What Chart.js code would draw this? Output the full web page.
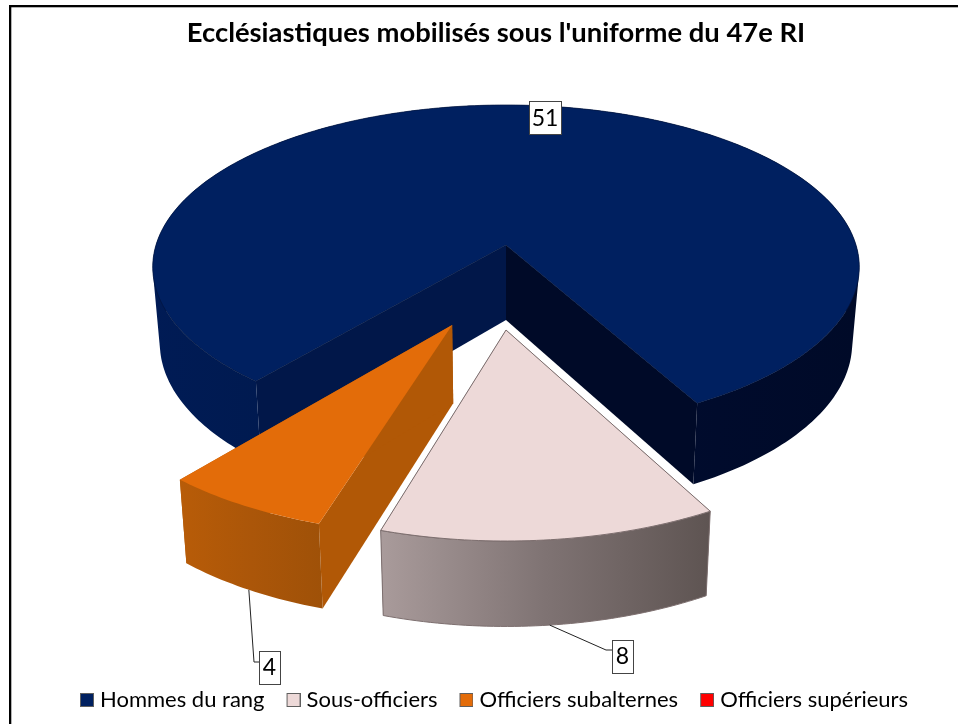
<!DOCTYPE html>
<html><head><meta charset="utf-8">
<style>html,body{margin:0;padding:0;background:#fff}#w{position:absolute;left:0;top:0;width:958px;height:724px}</style>
<script src="https://cdn.jsdelivr.net/npm/chart.js@4"></script>
</head><body><div id="w"><canvas id="c" width="958" height="724"></canvas></div>
<script>
const titleText = "Ecclésiastiques mobilisés sous l'uniforme du 47e RI";
const categories = ["Hommes du rang","Sous-officiers","Officiers subalternes","Officiers supérieurs"];
const counts = [51,8,4,0];
const sliceColors = ["#002060","#EDD9D8","#E36C09","#FF0000"];

// 3D look of each slice (style only)
const FONT = "Lato";
const look = [
 {wall:[[0,"#001B55"],[.16,"#001A50"],[.3,"#001848"],[.6,"#000C30"],[1,"#000A28"]], inA:"#011749", inB:"#000A28", ex:[0,0], r:1, edge:"#00143f"},
 {wall:[[0,"#A99B9B"],[.5,"#7F7373"],[1,"#5E5452"]], inA:"#5E5452", inB:"#5E5452", ex:[0,.4985], r:.988, stroke:"#7d6f6f"},
 {wall:[[0,"#B85C08"],[.5,"#AB5609"],[1,"#9F5108"]], inA:"#B15806", inB:"#B15806", ex:[-.144,.471], r:.988}
];
const P = {cx:506, cy:245, a:350, b:159, k:.1356, depth0:75, depth1:7, shrink:.02};
function project(u,v,z){
  const w = 1-P.k*v;
  return [P.cx + P.a*u/w*(1-P.shrink*z), P.cy + P.b*v/w + (P.depth0+P.depth1*v)*z];
}
function rimPoint(i,ang,z){
  const L=look[i];
  return project(L.ex[0]+L.r*Math.cos(ang), L.ex[1]+L.r*Math.sin(ang), z);
}
function poly(ctx,pts){ ctx.beginPath(); pts.forEach((p,j)=>j?ctx.lineTo(p[0],p[1]):ctx.moveTo(p[0],p[1])); ctx.closePath(); }
function addQuad(ctx,q){
  let area=0; q.forEach((p,j)=>{const r=q[(j+1)%4]; area+=p[0]*r[1]-r[0]*p[1];});
  const pts=area<0?q.slice().reverse():q;
  pts.forEach((p,j)=>j?ctx.lineTo(p[0],p[1]):ctx.moveTo(p[0],p[1])); ctx.closePath();
}

class Arc3D extends Chart.ArcElement {
  static id = "arc3d";
  draw(ctx){
    const {startAngle:a0,endAngle:a1} = this.getProps(["startAngle","endAngle"]);
    if(a1-a0<1e-6) return;
    const i=this.$context.index, L=look[i];
    const n=Math.max(8,Math.ceil((a1-a0)*60)), top=[], bot=[];
    for(let j=0;j<=n;j++){ const t=a0+(a1-a0)*j/n; top.push(rimPoint(i,t,0)); bot.push(rimPoint(i,t,1)); }
    const at=project(L.ex[0],L.ex[1],0), ab=project(L.ex[0],L.ex[1],1);
    ctx.save();
    // inner walls
    poly(ctx,[at,top[0],bot[0],ab]); ctx.fillStyle=L.inA; ctx.fill();
    poly(ctx,[at,top[n],bot[n],ab]); ctx.fillStyle=L.inB; ctx.fill();
    // outer wall: union of same-winding quads, so no seams and the silhouette stays tangent
    const xs=top.concat(bot).map(p=>p[0]), x0=Math.min(...xs), x1=Math.max(...xs);
    const g=ctx.createLinearGradient(x0,0,x1,0); L.wall.forEach(s=>g.addColorStop(s[0],s[1]));
    ctx.beginPath();
    for(let j=0;j<n;j++) addQuad(ctx,[top[j],top[j+1],bot[j+1],bot[j]]);
    ctx.fillStyle=g; ctx.fill();
    if(L.stroke){poly(ctx,top.concat(bot.slice().reverse()));ctx.strokeStyle=L.stroke;ctx.lineWidth=1;ctx.stroke();}
    // top
    poly(ctx,[at].concat(top)); ctx.fillStyle=this.options.backgroundColor; ctx.fill();
    if(L.stroke||L.edge){ctx.strokeStyle=L.stroke||L.edge;ctx.lineWidth=L.stroke?1:.7;ctx.stroke();}
    ctx.restore();
  }
}
class Pie3D extends Chart.PieController {
  static id = "pie3d";
  static defaults = {dataElementType:"arc3d"};
}
Chart.register(Arc3D,Pie3D);

const frame = {id:"frame",
 afterLayout(ch){ ch.titleBlock.left+=7; ch.titleBlock.right+=7; },
 beforeDraw(ch){
  const c=ch.ctx; c.save(); c.fillStyle="#fff"; c.fillRect(0,0,958,724);
  c.fillStyle="#000"; c.fillRect(9,5,949,2.3); c.fillRect(9,5,2.3,719); c.restore();
}};
const labelBoxes=[{cx:545,cy:117.5,lead:false,w:32},{cx:622.5,cy:656,lead:[[606,650],[612,650]],w:21},{cx:269.5,cy:667,lead:[[254,662],[259,662]],w:21}];
const labelsPlugin = {id:"sliceLabels",afterDatasetsDraw(ch){
  const c=ch.ctx, arcs=ch.getDatasetMeta(0).data;
  c.save();
  labelBoxes.forEach((b,i)=>{
    if(b.lead){
      const m=(arcs[i].startAngle+arcs[i].endAngle)/2, s=rimPoint(i,m,1);
      c.beginPath(); c.moveTo(s[0],s[1]); b.lead.forEach(p=>c.lineTo(p[0],p[1]));
      c.strokeStyle="#222"; c.lineWidth=1; c.stroke();
    }
    const h=33, x=Math.round(b.cx-b.w/2)+.5, y=Math.round(b.cy-h/2)+.5;
    c.fillStyle="#fff"; c.strokeStyle="#444"; c.lineWidth=1;
    c.fillRect(x,y,b.w,h); c.strokeRect(x,y,b.w,h);
    c.fillStyle="#000"; c.font="23px "+FONT; c.textAlign="center"; c.textBaseline="middle";
    c.fillText(String(counts[i]),b.cx,b.cy+1);
  });
  c.restore();
}};
function swatch(color){
  const s=document.createElement("canvas"); s.width=29; s.height=14;
  const c=s.getContext("2d");
  c.fillStyle=color; c.fillRect(15,0,14,14);
  c.strokeStyle="#5f5f5f"; c.lineWidth=1; c.strokeRect(15.5,.5,13,13);
  return s;
}
const swatches=sliceColors.map(swatch);

new Chart(document.getElementById("c"),{
  type:"pie3d",
  data:{labels:categories,datasets:[{data:counts,backgroundColor:sliceColors,borderColor:"#5f5f5f",borderWidth:1}]},
  options:{
    responsive:false,animation:false,rotation:219.8,
    layout:{padding:{left:20,bottom:3}},
    plugins:{
      title:{display:true,text:titleText,color:"#000",font:{family:FONT,size:27.4,weight:"bold"},padding:{top:17,bottom:10}},
      legend:{position:"bottom",labels:{color:"#000",font:{family:FONT,size:22},usePointStyle:true,pointStyleWidth:19,boxHeight:14,padding:12,
        generateLabels(ch){
          const items=Chart.PieController.overrides.plugins.legend.labels.generateLabels(ch);
          items.forEach((it,i)=>{it.pointStyle=swatches[i];});
          return items;
        }}},
      tooltip:{enabled:false}
    }
  },
  plugins:[frame,labelsPlugin]
});
</script></body></html>
